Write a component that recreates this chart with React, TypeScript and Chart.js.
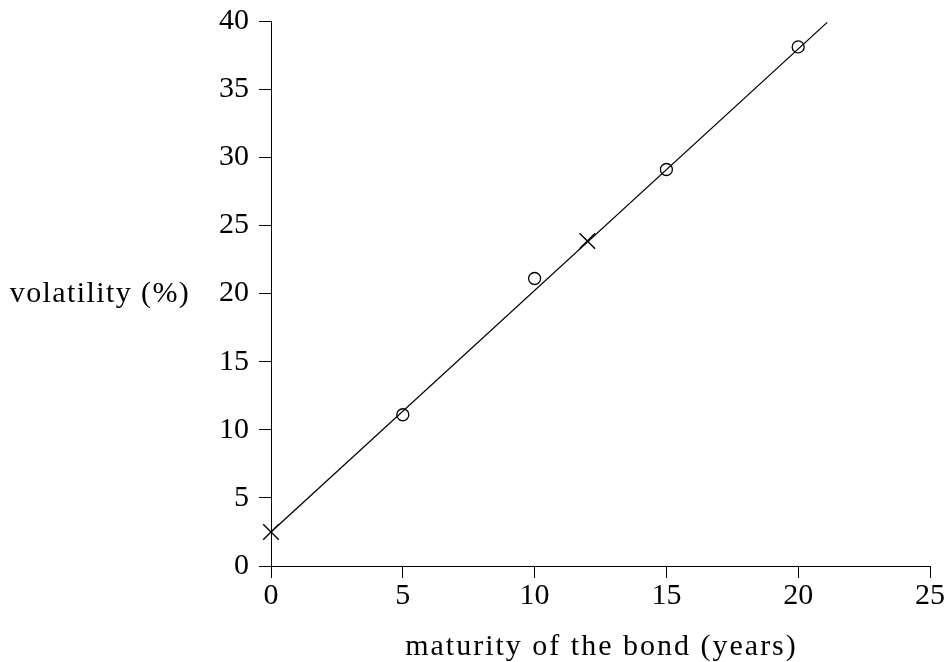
import React, { useEffect, useRef } from "react";
import { Chart, registerables } from "chart.js";

Chart.register(...registerables);

const fitLine = [
  { x: 0, y: 2.5 },
  { x: 21.1, y: 39.9 },
];
const crossPoints = [
  { x: 0, y: 2.5 },
  { x: 12, y: 23.85 },
];
const circlePoints = [
  { x: 5, y: 11.1 },
  { x: 10, y: 21.1 },
  { x: 15, y: 29.1 },
  { x: 20, y: 38.1 },
];
const xTicks = [0, 5, 10, 15, 20, 25];
const yTicks = [0, 5, 10, 15, 20, 25, 30, 35, 40];
const xTitle = "maturity of the bond (years)";
const yTitle = "volatility (%)";

const FONT = "'Liberation Serif', 'DejaVu Serif', serif";

const titlePlugin = {
  id: "titles",
  afterDraw(chart: any) {
    const { ctx, chartArea } = chart;
    ctx.save();
    ctx.fillStyle = "#000";
    ctx.font = `30px ${FONT}`;
    ctx.textBaseline = "alphabetic";
    ctx.textAlign = "center";
    ctx.letterSpacing = "2px";
    ctx.fillText(xTitle, (chartArea.left + chartArea.right) / 2 + 1, chartArea.bottom + 89);
    ctx.letterSpacing = "1.4px";
    ctx.fillText(yTitle, chartArea.left - 171, (chartArea.top + chartArea.bottom) / 2 + 8);
    ctx.restore();
  },
};

export default function App() {
  const ref = useRef<HTMLCanvasElement>(null);
  useEffect(() => {
    if (!ref.current) return;
    const chart = new Chart(ref.current, {
      type: "scatter",
      data: {
        datasets: [
          {
            data: fitLine,
            showLine: true,
            borderColor: "#000",
            borderWidth: 1.3,
            pointRadius: 0,
            clip: false,
            order: 3,
          },
          {
            data: crossPoints,
            pointStyle: "crossRot",
            pointRadius: 11,
            borderColor: "#000",
            borderWidth: 1.4,
            showLine: false,
            clip: false,
          },
          {
            data: circlePoints,
            pointStyle: "circle",
            pointRadius: 6,
            borderColor: "#000",
            backgroundColor: "rgba(0,0,0,0)",
            borderWidth: 1.3,
            showLine: false,
            clip: false,
          },
        ],
      },
      options: {
        responsive: false,
        animation: false,
        layout: { padding: { top: 21, right: 19, left: 0, bottom: 0 } },
        plugins: { legend: { display: false }, tooltip: { enabled: false } },
        scales: {
          x: {
            type: "linear",
            min: 0,
            max: 25,
            afterBuildTicks: (s: any) => {
              s.ticks = xTicks.map((v) => ({ value: v }));
            },
            afterFit: (s: any) => {
              s.height = 96;
              s.paddingLeft = 0;
              s.paddingRight = 0;
            },
            grid: { drawOnChartArea: false, drawTicks: true, tickLength: 12, color: "#000", lineWidth: 1 },
            border: { display: true, color: "#000", width: 1 },
            ticks: { color: "#000", font: { family: FONT, size: 30, lineHeight: 1 }, padding: 3, maxRotation: 0 },
          },
          y: {
            type: "linear",
            min: 0,
            max: 40,
            afterBuildTicks: (s: any) => {
              s.ticks = yTicks.map((v) => ({ value: v }));
            },
            afterFit: (s: any) => {
              s.width = 271;
              s.paddingTop = 0;
              s.paddingBottom = 0;
            },
            grid: { drawOnChartArea: false, drawTicks: true, tickLength: 12, color: "#000", lineWidth: 1 },
            border: { display: true, color: "#000", width: 1 },
            ticks: { color: "#000", font: { family: FONT, size: 30, lineHeight: 1 }, padding: 10 },
          },
        },
      },
      plugins: [titlePlugin],
    });
    return () => chart.destroy();
  }, []);
  return (
    <div style={{ position: "absolute", left: 0, top: 0, width: 949, height: 662, background: "#fff" }}>
      <canvas ref={ref} width={949} height={662} />
    </div>
  );
}
